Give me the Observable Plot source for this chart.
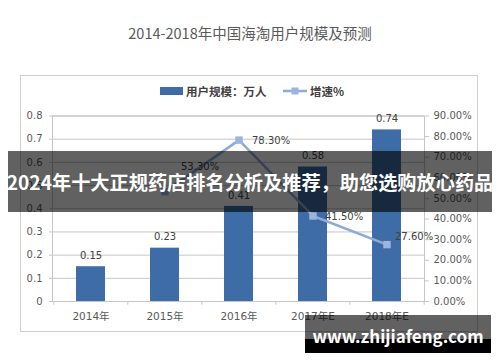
<!DOCTYPE html>
<html><head><meta charset="utf-8">
<script src="https://cdn.jsdelivr.net/npm/d3@7"></script>
<script src="https://cdn.jsdelivr.net/npm/@observablehq/plot@0.6"></script>
<style>
html,body{margin:0;padding:0;background:#fff}
body{width:500px;height:362px;overflow:hidden;position:relative;font-family:"DejaVu Sans","Noto Sans CJK SC",sans-serif}
#chart{position:absolute;left:0;top:0}
#box{position:absolute;left:20px;top:75px;width:458px;height:257px;border:1.5px solid #cfcfcf;box-sizing:border-box}
#title{position:absolute;top:23px;left:0;width:500px;line-height:20px;text-align:center;font-size:14.5px;font-family:"Noto Sans CJK SC";color:#595959}
.lg{position:absolute;line-height:16px;top:83px;font-size:11.5px;font-weight:bold;font-family:"Noto Sans CJK SC";color:#404040;white-space:nowrap}
#sw1{position:absolute;left:160px;top:87px;width:23px;height:8px;background:#3e6ca6}
#sw2{position:absolute;left:283px;top:86px}
#banner{position:absolute;left:8px;top:151px;width:484px;height:61px;background:rgba(0,0,0,0.62);color:#fff;font-weight:bold;font-size:19.2px;font-family:"Noto Sans CJK SC";display:flex;align-items:center;justify-content:center;white-space:nowrap;overflow:hidden}
#wm1{position:absolute;left:305px;top:315px;width:186px;height:24px;background:rgba(0,0,0,0.62)}
#wm2{position:absolute;left:305px;top:339px;width:186px;height:14px;background:#000}
#wmt{position:absolute;left:305px;top:326px;width:186px;line-height:20px;text-align:center;color:#fff;font-weight:bold;font-size:17px;font-family:"Noto Sans CJK SC";white-space:nowrap}
</style></head>
<body>
<div id="box"></div>
<div id="chart"></div>
<div id="title">2014-2018年中国海淘用户规模及预测</div>
<div id="sw1"></div><div class="lg" style="left:186px">用户规模：万人</div>
<svg id="sw2" width="24" height="10"><line x1="0" y1="5" x2="24" y2="5" stroke="#8eaad6" stroke-width="2.5"/><rect x="8.5" y="1.5" width="7" height="7" fill="#9cb5df"/></svg>
<div class="lg" style="left:310px">增速%</div>
<div id="banner">2024年十大正规药店排名分析及推荐，助您选购放心药品</div>
<div id="wm1"></div><div id="wm2"></div>
<div id="wmt">www.zhijiafeng.com</div>
<script>
// ---- data ----
const years = ["2014年", "2015年", "2016年", "2017年E", "2018年E"];
const users = [0.15, 0.23, 0.41, 0.58, 0.74];          // 用户规模：万人
const growth = [null, 53.3, 78.3, 41.5, 27.6];        // 增速 %
const leftTicks = [0, 0.1, 0.2, 0.3, 0.4, 0.5, 0.6, 0.7, 0.8];
const rightTicks = [0, 10, 20, 30, 40, 50, 60, 70, 80, 90];

// ---- layout / style ----
const W = 500, H = 362, ML = 52, MR = 76, MT = 115.5, MB = 61;
const leftMax = 0.8, rightMax = 90;
const toLeft = v => v / rightMax * leftMax;
const step = (W - ML - MR) / years.length;
const labelOffsets = [[16, -25], [13, 1], [12, 1], [8, -8]];
const gridColor = "#c6c6c6";

const table = years.map((y, i) => ({year: y, users: users[i], growth: growth[i]}));
const lineData = table.filter(d => d.growth != null);

const plot = Plot.plot({
  width: W, height: H,
  marginLeft: ML, marginRight: MR, marginTop: MT, marginBottom: MB,
  style: {fontFamily: "DejaVu Sans, Noto Sans CJK SC, sans-serif", fontSize: "10px", color: "#595959", background: "transparent"},
  x: {domain: years, paddingInner: 0.61, paddingOuter: 0.305},
  y: {domain: [0, leftMax]},
  marks: [
    Plot.gridY(leftTicks, {stroke: gridColor, strokeOpacity: 1}),
    Plot.frame({stroke: gridColor}),
    Plot.ruleX(years, {x: d => d, y1: 0, y2: -0.016, dx: -step / 2, stroke: gridColor}),
    Plot.ruleX(years.slice(-1), {x: d => d, y1: 0, y2: -0.016, dx: step / 2, stroke: gridColor}),
    Plot.barY(table, {x: "year", y: "users", fill: "#3e6ca6"}),
    Plot.text(table, {x: "year", y: "users", text: d => d.users.toFixed(2), dy: -11, fill: "#404040", fontSize: 10}),
    Plot.line(lineData, {x: "year", y: d => toLeft(d.growth), stroke: "#8eaad6", strokeWidth: 2.5}),
    Plot.dot(lineData, {x: "year", y: d => toLeft(d.growth), symbol: "square", r: 4.2, fill: "#9cb5df", stroke: "none"}),
    ...lineData.map((d, i) => Plot.text([d], {x: "year", y: dd => toLeft(dd.growth), text: dd => dd.growth.toFixed(2) + "%", textAnchor: "start", dx: labelOffsets[i][0], dy: labelOffsets[i][1], fill: "#404040", fontSize: 10})),
    Plot.axisY(leftTicks, {anchor: "left", tickSize: 3, tickPadding: 7, stroke: gridColor, fill: "#595959", tickFormat: d => d === 0 ? "0" : d.toFixed(1), label: null}),
    Plot.axisY(rightTicks.map(toLeft), {anchor: "right", tickSize: 4, tickPadding: 5, stroke: gridColor, fill: "#595959", tickFormat: d => (Math.round(d / leftMax * rightMax)).toFixed(2) + "%", label: null}),
    Plot.axisX({tickSize: 0, tickPadding: 11, fill: "#595959", fontSize: 10.5, label: null})
  ]
});
document.getElementById("chart").appendChild(plot);
</script>
</body></html>
